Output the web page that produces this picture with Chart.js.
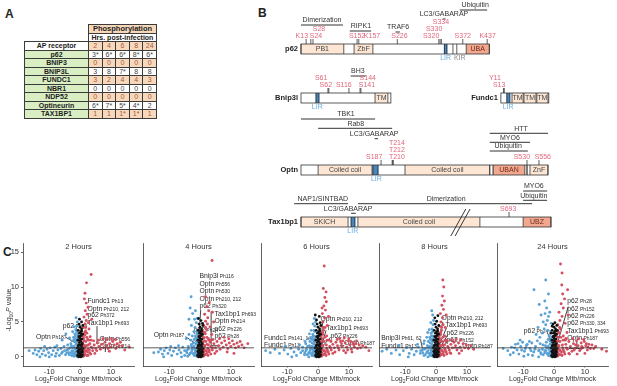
<!DOCTYPE html>
<html>
<head>
<meta charset="utf-8">
<script src="https://cdn.jsdelivr.net/npm/chart.js@4.4.1/dist/chart.umd.min.js"></script>
<style>
  body { margin: 0; background: #fff; }
  #page { position: relative; width: 617px; height: 386px; overflow: hidden; font-family: "Liberation Sans", Arial, sans-serif; color: #222; }
  .letter { position: absolute; font-weight: bold; font-size: 12px; line-height: 12px; }
  canvas { position: absolute; }
  #tbl { position: absolute; left: 24px; top: 24px; border-collapse: collapse; table-layout: fixed; font-size: 7px; }
  #tbl tr { height: 8.5px; }
  #tbl td { border: 0.8px solid #3b3b3b; padding: 0; line-height: 7px; text-align: center; white-space: nowrap; overflow: hidden; }
  #tbl td.e { border: none; }
  #tbl td.ph { background: #f8d8bb; font-weight: bold; font-size: 7.5px; }
  #tbl td.hr { background: #fff; font-weight: bold; }
  #tbl td.ap { background: #fff; font-weight: bold; }
  #tbl td.g { background: #d9efc3; font-weight: bold; }
  #tbl td.o { background: #f8d8bb; color: #a35a45; }
  #tbl td.w { background: #fff; color: #444; }
</style>
</head>
<body>
<div id="page">
  <div class="letter" style="left:5px;top:8px">A</div>
  <div class="letter" style="left:258px;top:7px">B</div>
  <div class="letter" style="left:3px;top:246px">C</div>
  <table id="tbl"></table>
  <canvas id="domains" width="377" height="240" style="left:240px;top:0px"></canvas>
  <canvas id="v0" width="138" height="150" style="left:0px;top:236px"></canvas>
  <canvas id="v1" width="138" height="150" style="left:120px;top:236px"></canvas>
  <canvas id="v2" width="138" height="150" style="left:238px;top:236px"></canvas>
  <canvas id="v3" width="138" height="150" style="left:356px;top:236px"></canvas>
  <canvas id="v4" width="138" height="150" style="left:474px;top:236px"></canvas>
</div>
<script>
const FONT = '"Liberation Sans", Arial, sans-serif';

// ---------- A: phosphosites per receptor
const hours = ['2', '4', '6', '8', '24'];
const receptors = ['p62', 'BNIP3', 'BNIP3L', 'FUNDC1', 'NBR1', 'NDP52', 'Optineurin', 'TAX1BP1'];
const phosphoSites = [
  ['3*', '6*', '6*', '8*', '6*'],
  ['0', '0', '0', '0', '0'],
  ['3', '8', '7*', '8', '8'],
  ['3', '2', '4', '4', '3'],
  ['0', '0', '0', '0', '0'],
  ['0', '0', '0', '0', '0'],
  ['6*', '7*', '5*', '4*', '2'],
  ['1', '1', '1*', '1*', '1']
];

// ---------- B: domain maps (residue units)
const proteins = ['p62', 'Bnip3l', 'Fundc1', 'Optn', 'Tax1bp1'];
const proteinLength = [440, 210, 112, 577, 584];
const domains = [
  ['p62', 0, 100, 'PB1', 'pale'], ['p62', 124, 168, 'ZbF', 'pale'], ['p62', 335, 341, '', 'lir'],
  ['p62', 355, 364, '', 'mark'], ['p62', 386, 440, 'UBA', 'ub'],
  ['Bnip3l', 35, 42, '', 'lir'], ['Bnip3l', 173, 203, 'TM', 'pale'],
  ['Fundc1', 14, 21, '', 'lir'], ['Fundc1', 26, 52, 'TM', 'pale'], ['Fundc1', 54, 82, 'TM', 'pale'], ['Fundc1', 84, 110, 'TM', 'pale'],
  ['Optn', 40, 166, 'Coiled coil', 'pale'], ['Optn', 168, 180, '', 'lir'], ['Optn', 243, 441, 'Coiled coil', 'pale'],
  ['Optn', 441, 449, '', 'mark'], ['Optn', 449, 523, 'UBAN', 'ub'], ['Optn', 528, 528, '', 'mark'], ['Optn', 535, 577, 'ZnF', 'pale'],
  ['Tax1bp1', 0, 110, 'SKICH', 'pale'], ['Tax1bp1', 117, 126, '', 'lir'], ['Tax1bp1', 133, 418, 'Coiled coil', 'pale'],
  ['Tax1bp1', 519, 584, 'UBZ', 'ub']
];
const motifs = [['p62', 338, 'LIR'], ['p62', 371, 'KIR'], ['Bnip3l', 38, 'LIR'], ['Fundc1', 17, 'LIR'], ['Optn', 176, 'LIR'], ['Tax1bp1', 121, 'LIR']];
// protein, residue, label, label centre, label row
const sites = [
  ['p62', 12, 'K13', 2, 0], ['p62', 23, 'S24', 35, 0], ['p62', 28, 'S28', 42, 1],
  ['p62', 131, 'S152', 131, 0], ['p62', 135, 'K157', 166, 0], ['p62', 225, 'S226', 230, 0],
  ['p62', 322, 'S320', 304, 0], ['p62', 325, 'S330', 311, 1], ['p62', 328, 'S334', 327, 2],
  ['p62', 378, 'S372', 378, 0], ['p62', 435, 'K437', 436, 0],
  ['Bnip3l', 63, 'S61', 47, 1], ['Bnip3l', 65, 'S62', 58, 0], ['Bnip3l', 112, 'S116', 100, 0],
  ['Bnip3l', 138, 'S141', 154, 0], ['Bnip3l', 140, 'S144', 156, 1],
  ['Fundc1', 6, 'Y11', -14, 1], ['Fundc1', 8, 'S13', -4, 0],
  ['Optn', 187, 'S187', 171, 0], ['Optn', 213, 'T210', 224, 0], ['Optn', 215, 'T212', 224, 1], ['Optn', 215, 'T214', 224, 2],
  ['Optn', 528, 'S530', 516, 0], ['Optn', 556, 'S556', 565, 0],
  ['Tax1bp1', 486, 'S693', 484, 0]
];
// protein, from, to, partner, label centre
const partners = [
  ['p62', 0, 98, 'Dimerization', 49], ['p62', 114, 164, 'RIPK1', 140], ['p62', 221, 231, 'TRAF6', 227],
  ['p62', 331, 338, 'LC3/GABARAP', 334], ['p62', 371, 435, 'Ubiquitin', 407],
  ['Bnip3l', 116, 151, 'BH3', 133],
  ['Optn', 0, 173, 'TBK1', 105], ['Optn', 40, 213, 'Rab8', 128], ['Optn', 172, 180, 'LC3/GABARAP', 171],
  ['Optn', 441, 577, 'HTT', 514], ['Optn', 441, 535, 'MYO6', 488], ['Optn', 441, 530, 'Ubiquitin', 484],
  ['Tax1bp1', 519, 575, 'MYO6', 544], ['Tax1bp1', 519, 575, 'Ubiquitin', 544],
  ['Tax1bp1', -16, 110, 'NAP1/SINTBAD', 51], ['Tax1bp1', 133, 540, 'Dimerization', 339],
  ['Tax1bp1', 117, 128, 'LC3/GABARAP', 110]
];
// layout of the tracks
const trackTop = { p62: 44, Bnip3l: 93, Fundc1: 93, Optn: 165, Tax1bp1: 217 };
const trackOffset = { p62: 0, Bnip3l: 0, Fundc1: 467, Optn: 0, Tax1bp1: 0 };
const partnerRise = [19, 13, 12, 25, 34, 17, 46, 36.7, 26.3, 31.7, 22.7, 14, 26, 16.7, 13.3, 13.3, 3.7];

// ---------- C: volcano plots
const hourTitles = ['2 Hours', '4 Hours', '6 Hours', '8 Hours', '24 Hours'];
const threshold = 1.3;
const blackCore = [[-0.3,0.05],[0.2,0.15],[-0.1,0.3],[0.4,0.45],[-0.5,0.55],[0.1,0.7],[0.6,0.85],[-0.4,1.0],[0.2,1.15],[-0.2,1.3],[0.5,1.45],[-0.6,1.6],[0.1,1.75],[0.7,1.9],[-0.3,2.05],[0.3,2.2],[-0.7,2.4],[0.6,2.55],[0,2.7],[-0.4,2.9],[0.4,3.05],[0.8,3.25],[-0.2,3.4],[0.2,3.6],[-0.6,3.8],[0.5,4.0],[0,4.25],[0.9,4.5],[-0.3,4.7],[0.3,0],[-0.1,1.05],[0,2.35],[0.35,3.3],[-0.8,0.2],[0.8,0.3],[-0.9,1.3],[0.9,1.2],[-0.5,0.0],[0.6,0.1],[-0.7,0.8],[0.8,0.7],[0,0.45],[-0.3,1.7],[0.4,1.65],[-0.1,2.95],[0.55,3.7]];
const blackTop = [
  [[0.5,5.0],[-0.2,5.4]],
  [[0.3,5.2],[-0.5,5.5],[0.8,4.8]],
  [[-0.5,5.3],[0.4,5.8],[0.7,4.9],[-0.9,6.0]],
  [[0.2,5.1],[-0.4,5.6],[0.6,5.9]],
  [[0.3,4.9],[-0.6,4.4],[1.1,3.8],[-1.0,3.4]]
];
// dense V next to zero, common to all time points
const blueNearZero = [[-2.2,0.5],[-1.8,0.2],[-1.4,0.7],[-1.1,0.1],[-0.9,0.9],[-2.6,0.9],[-1.6,1.1],[-1.3,1.8],[-2.0,1.5],[-1.0,1.3],[-0.8,0.6],[-3.0,0.6],[-2.4,1.3],[-1.7,0.5],[-1.2,2.2],[-0.9,2.6],[-1.5,3.0],[-1.9,2.5],[-3.5,0.3],[-4.3,0.6],[-5.0,0.9],[-3.8,1.1],[-2.8,1.6],[-1.1,3.6]];
const redNearZero = [[1.1,0.1],[1.4,0.5],[1.0,0.8],[1.7,0.3],[2.0,0.9],[1.3,1.1],[1.6,1.6],[2.4,0.7],[1.1,1.7],[1.9,2.2],[2.7,1.7],[1.3,2.3],[3.0,1.0],[3.5,0.4],[4.0,1.3],[2.2,2.8],[1.5,3.5],[1.2,1.4],[2.6,0.2],[3.6,2.4],[4.8,0.5],[2.9,2.4],[1.0,2.9],[1.8,4.2]];
const bluePoints = [
  [[-16.5,0.9],[-15.2,0.5],[-14.6,1.0],[-14,0.3],[-13.4,0.8],[-12.8,1.2],[-12.3,0.4],[-11.8,0.9],[-11.2,0.2],[-10.7,1.1],[-10.2,0.6],[-9.7,1.3],[-9.2,0.3],[-8.7,0.9],[-8.2,1.4],[-7.7,0.5],[-7.2,1.0],[-6.7,0.2],[-6.2,1.2],[-5.7,0.7],[-5.2,1.5],[-4.7,0.3],[-4.2,1.0],[-3.7,0.6],[-3.2,1.3],[-2.7,0.2],[-2.3,0.8],[-1.9,1.4],[-1.5,0.4],[-1.2,1.0],[-0.9,0.2],[-13,0],[-10,0],[-8,0.1],[-6,0.5],[-4,1.7],[-3,1.9],[-2,0.1],[-11.5,1.5],[-7.5,1.6],
   [-2.6,2.3],[-2.1,2.8],[-1.7,3.3],[-1.4,3.9],[-1.1,4.4],[-0.9,5.0],[-1.3,5.6],[-2.4,3.6],[-1.8,2.2],[-1.2,2.6],[-0.8,3.2],[-3.4,2.7],[-4.6,3.3],[-5.8,2.4],[-2.0,4.3],[-1.0,1.8]],
  [[-13.5,0.7],[-12.8,1.1],[-12.2,0.4],[-11.6,0.9],[-11,1.3],[-10.4,0.5],[-9.8,1.0],[-9.2,0.2],[-8.6,0.8],[-8,1.3],[-7.4,0.4],[-6.8,1.0],[-6.2,0.6],[-5.6,1.4],[-5,0.2],[-4.4,0.9],[-3.8,1.5],[-3.2,0.5],[-2.6,1.1],[-2,0.3],[-1.5,0.9],[-1,0.4],[-7,1.6],[-9.5,1.5],[-4,0.1],[-6,0.0],[-11.8,0],[-15,0.6],[-2.8,1.8],
   [-3.0,2.4],[-2.5,3.0],[-2.0,3.6],[-1.6,4.2],[-1.2,4.9],[-0.9,5.5],[-2.2,2.0],[-1.4,2.7],[-1.0,3.3],[-3.6,3.2],[-2.8,4.5],[-1.8,5.4],[-2.4,6.2],[-3.2,7.0],[-2.9,8.6],[-1.5,6.6],[-4.5,2.6],[-0.8,2.0],[-3.6,5.4]],
  [[-17,0.9],[-15.5,0.6],[-14,1.1],[-12.5,0.5],[-11,1.0],[-9.8,0.4],[-8.8,1.2],[-7.8,0.7],[-7,0.2],[-6.3,1.1],[-5.6,0.6],[-5,1.4],[-4.4,0.3],[-3.9,0.9],[-3.4,1.5],[-2.9,0.5],[-2.4,1.1],[-2,0.2],[-1.6,0.8],[-1.2,1.4],[-0.9,0.3],[-6,1.7],[-4,1.9],[-8.5,0.0],[-3,0],[-10.5,1.5],
   [-2.6,2.2],[-2.1,2.7],[-1.7,3.2],[-1.3,3.8],[-1.0,4.4],[-0.8,5.0],[-1.9,2.0],[-1.4,2.5],[-0.9,2.9],[-3.2,2.6],[-2.2,3.8],[-1.6,4.7],[-1.2,5.5],[-4.2,2.2],[-2.8,3.3]],
  [[-17.5,0.8],[-16,1.1],[-14.5,0.5],[-13,1.0],[-11.8,0.3],[-10.6,0.9],[-9.6,1.3],[-8.7,0.5],[-7.9,1.1],[-7.1,0.3],[-6.4,0.8],[-5.7,1.4],[-5.1,0.5],[-4.5,1.0],[-3.9,0.2],[-3.4,1.2],[-2.9,0.7],[-2.4,1.5],[-2,0.3],[-1.6,0.9],[-1.2,1.5],[-0.9,0.4],[-6,1.8],[-4,1.9],[-9,0],[-2.6,0],[-12,1.6],
   [-2.5,2.2],[-2.0,2.8],[-1.6,3.4],[-1.3,4.0],[-1.0,4.6],[-0.8,5.2],[-1.1,6.0],[-1.9,2.0],[-1.4,2.5],[-0.9,3.0],[-3.0,2.8],[-2.2,3.9],[-1.7,4.9],[-3.8,2.3],[-2.7,3.5],[-1.4,6.6]],
  [[-15,0.9],[-13.8,1.4],[-13.2,0.6],[-12.5,1.8],[-12,1.0],[-11.4,0.4],[-10.8,1.5],[-10.2,2.1],[-9.6,0.8],[-9,1.6],[-8.4,0.3],[-7.8,1.2],[-7.2,2.0],[-6.6,0.7],[-6,1.5],[-5.4,2.3],[-4.8,1.0],[-4.2,0.4],[-3.6,1.7],[-3,0.9],[-2.5,2.1],[-2,0.3],[-1.6,1.3],[-1.2,0.6],[-11,2.4],[-8,2.2],[-9.8,0.1],[-7,0.2],[-5,0.0],[-14.2,0.3],[-16.5,1.2],
   [-4.6,2.8],[-3.8,3.4],[-3.2,4.0],[-2.7,4.6],[-2.2,5.2],[-1.8,5.8],[-1.4,6.4],[-3.5,5.0],[-2.9,6.2],[-2.4,7.0],[-4.2,6.0],[-1.6,3.0],[-2.0,3.8],[-1.1,2.4],[-5.2,4.2],[-3.0,8.0],[-2.7,11.0],[-6.5,9.6],[-4.8,7.5],[-1.8,9.0],[-0.9,4.8],[-5.8,3.2],[-10.5,1.0],[-12.8,1.3],[-8.7,1.8],[-7.5,0.9],[-6.2,1.1],[-9.3,1.2],[-11.7,1.9],[-4.5,1.9]]
];
const redPoints = [
  [[1.3,0.3],[1.7,0.8],[2.2,0.2],[2.6,1.1],[3.1,0.6],[3.6,1.4],[4.1,0.9],[4.6,1.7],[5.1,1.2],[5.6,2.0],[6.1,1.5],[6.6,1.1],[7.1,1.8],[7.6,1.3],[8.1,2.1],[8.6,1.6],[9.1,1.2],[9.6,1.9],[10.1,1.4],[10.6,2.2],[11.1,1.7],[11.6,1.2],[12.1,1.9],[12.6,1.5],[13.1,2.1],[13.7,1.6],[6,2.4],[7.4,2.6],[8.8,2.5],[10.2,2.6],[5.4,0.9],[9.5,0.8],[11.4,2.5],[4.4,2.3],[3.2,1.9],[2.1,1.6],[14.5,1.0],[16,1.4],[1.5,1.3],
   [0.9,2.0],[1.2,2.6],[1.5,3.1],[1.8,3.7],[1.1,4.2],[1.6,4.7],[2.0,5.2],[1.3,5.7],[2.3,6.1],[1.7,6.6],[2.6,7.1],[2.0,7.7],[2.9,4.0],[3.3,2.9],[2.5,2.5],[3.8,5.4],[1.0,3.3],[2.7,4.9],[2.2,3.4],[1.4,8.3],[1.6,9.1],[2.1,10.6],[3.6,11.8]],
  [[1.2,0.3],[1.6,0.9],[2.1,0.4],[2.5,1.2],[3,0.7],[3.5,1.5],[4,1.0],[4.5,1.9],[5,1.3],[5.5,2.2],[6,1.6],[6.5,1.1],[7,2.0],[7.5,1.4],[8,2.3],[8.5,1.7],[9,1.2],[9.5,2.0],[10,1.5],[10.5,2.3],[11,1.8],[11.5,1.3],[12,2.0],[12.5,1.5],[13,2.2],[13.6,1.7],[14.3,1.3],[6.3,2.6],[7.8,2.8],[9.3,2.6],[4.2,2.5],[5.4,0.8],[8.8,0.7],[3.3,2.1],[2.3,1.8],[15.5,1.9],[11,0.5],
   [0.9,2.1],[1.3,2.7],[1.7,3.3],[2.1,3.9],[1.2,4.5],[1.8,5.1],[2.5,5.6],[1.5,6.1],[2.8,6.6],[2.2,7.2],[3.2,4.3],[3.8,3.2],[2.7,2.6],[4.4,5.0],[1.0,3.6],[3.0,7.8],[2.4,4.7],[4.0,6.4],[3.9,13.8],[1.8,8.6]],
  [[0.9,2.0],[1.2,2.6],[1.5,3.2],[1.8,3.8],[1.1,4.4],[1.6,5.0],[2.1,5.6],[1.4,6.2],[2.4,6.7],[1.9,7.3],[2.7,7.9],[2.2,8.5],[2.6,9.3],[1.7,9.8],[2.0,13.0],[3.0,4.5],[2.8,3.0],[1.0,3.4],[2.3,4.2],[3.4,5.8],[1.3,7.0],
   [1.3,0.3],[1.8,0.9],[2.3,0.4],[2.8,1.2],[3.3,0.7],[3.8,1.5],[4.3,1.0],[4.8,1.8],[5.3,1.3],[5.8,2.1],[6.3,1.6],[6.8,1.0],[7.3,2.2],[7.8,1.5],[8.3,0.9],[8.8,2.0],[9.3,1.4],[9.8,2.3],[10.3,1.7],[10.8,1.1],[11.3,2.0],[11.8,1.4],[12.3,1.9],[12.8,1.2],[13.3,1.7],[13.8,1.3],[14.5,1.6],[5.5,0.7],[7,2.6],[8.5,2.7],[10,2.6],[6.2,2.5],[9,0.6],[11,0.7],[12.5,2.3],[4.2,2.2],[15.5,1.4],[16.5,0.9],[7.6,1.9],[9.6,1.0],[11.6,1.7],[6.6,1.3],[8.0,2.3],[10.6,2.2]],
  [[0.9,2.0],[1.2,2.6],[1.5,3.2],[1.8,3.8],[1.1,4.4],[1.6,5.0],[2.1,5.6],[1.4,6.2],[2.4,6.8],[1.9,7.4],[2.7,8.0],[2.1,8.7],[2.5,10.0],[3.0,4.2],[2.8,3.0],[1.0,3.4],[2.3,4.6],[3.3,6.0],[2.2,11.0],
   [1.3,0.3],[1.8,0.9],[2.3,0.4],[2.8,1.2],[3.3,0.7],[3.8,1.5],[4.3,1.0],[4.8,1.8],[5.3,1.3],[5.8,2.1],[6.3,1.6],[6.8,1.0],[7.3,2.0],[7.8,1.4],[8.3,0.9],[8.8,1.9],[9.3,1.3],[9.8,1.7],[10.5,1.2],[11.3,1.6],[12.2,1.1],[5,2.4],[6.5,2.5],[8,2.4],[4.5,0.6],[7.5,0.5],[3.2,2.2],[2.2,1.7]],
  [[1.3,0.4],[1.8,1.0],[2.3,0.3],[2.8,1.3],[3.3,0.7],[3.8,1.8],[4.3,1.1],[4.8,2.2],[5.3,1.5],[5.8,0.8],[6.3,1.9],[6.8,1.2],[7.3,2.3],[7.8,1.6],[8.3,0.9],[8.8,2.0],[9.3,1.3],[9.8,2.2],[10.3,1.6],[10.8,1.0],[11.3,1.8],[11.8,1.2],[12.3,1.7],[12.9,1.2],[13.5,1.5],[6,2.6],[8,2.6],[9.6,2.5],[5,0.4],[7.5,0.4],[10,0.5],[4,2.6],[15.5,1.1],[17,0.8],[7.0,1.7],[9.0,1.5],[11.0,1.4],[6.5,1.0],[8.6,1.1],[10.5,1.9],
   [0.9,2.2],[1.3,2.8],[1.7,3.4],[2.1,4.0],[1.2,4.6],[1.9,5.2],[2.6,5.8],[1.6,6.4],[3.0,7.0],[2.3,7.6],[3.4,8.3],[2.8,9.0],[3.6,4.8],[4.2,3.5],[3.0,3.0],[4.6,6.0],[1.0,3.7],[2.5,10.3],[2.1,13.3],[2.6,12.0],[3.8,2.6],[4.4,9.6]]
];
// name, site, left x, baseline y
const siteLabels = [
  [['Fundc1','Ph13',2.4,7.7],['Optn','Ph210, 212',2.4,6.6],['p62','Ph372',2.4,5.7],['Tax1bp1','Ph693',2.4,4.6],['Optn','Ph556',6.3,2.3],['Optn','Ph214',6.3,1.3],['p62','Ph24',-5.6,4.1],['Optn','Ph187',-14.3,2.6]],
  [['Bnip3l','Ph116',-0.2,11.3],['Optn','Ph556',-0.2,10.1],['Optn','Ph530',-0.2,9.1],['Optn','Ph210, 212',-0.2,8.0],['p62','Ph320',-0.2,7.0],['Tax1bp1','Ph693',4.7,5.9],['Optn','Ph214',4.7,4.9],['p62','Ph226',4.7,3.7],['p62','Ph28',4.7,2.7],['p62','Ph24',-2.1,3.6],['Optn','Ph187',-15,2.9]],
  [['Optn','Ph210, 212',0.8,5.1],['Tax1bp1','Ph693',2.7,3.9],['p62','Ph226',4.0,2.7],['Optn','Ph187',8.5,1.7],['Fundc1','Ph141, 148',-17.5,2.4],['Fundc1','Ph13',-17.5,1.4]],
  [['Optn','Ph210, 212',1.8,5.3],['Tax1bp1','Ph693',3.1,4.3],['p62','Ph226',3.4,3.1],['p62','Ph152',3.4,2.1],['Optn','Ph187',8.5,1.3],['Bnip3l','Ph61, 62',-17.8,2.4],['Fundc1','Ph13',-17.8,1.3]],
  [['p62','Ph28',4.3,7.7],['p62','Ph152',4.3,6.6],['p62','Ph226',4.3,5.6],['p62','Ph330, 334',4.3,4.6],['Tax1bp1','Ph693',4.3,3.4],['Optn','Ph187',4.3,2.4],['p62','Ph24',-9.8,3.4]]
];
const leaderLines = [
  [[[5.5,4.4],[5.5,2.0],[6.3,2.0]], [[-1.2,4.2],[-0.4,2.4]], [[-4.6,2.8],[-0.2,1.7]], [[8.2,1.2],[8.2,0.7]]],
  [[[3.6,6.5],[3.6,1.6],[6.6,1.6]], [[-0.9,3.6],[0.2,1.0]], [[-4.7,2.9],[0,1.5]], [[0.2,6.7],[-0.4,2.4]]],
  [[[1.5,4.9],[0.8,1.2]], [[2.6,3.8],[1.1,1.5]], [[4.0,2.8],[1.6,1.6]], [[-1.5,2.4],[-0.6,1.5]], [[8.5,1.6],[7.0,1.6]]],
  [[[2.2,5.0],[0.4,1.5]], [[3.4,4.2],[0.9,1.5]], [[3.7,3.1],[1.4,1.4]], [[3.7,2.2],[1.8,1.2]], [[-5,2.4],[-4.4,1.2]], [[8.4,1.3],[5.0,1.3]]],
  [[[-2.2,3.5],[0.2,1.0]], [[4.6,7.2],[0.8,1.5]], [[7.4,2.2],[7.4,1.2]], [[4.8,1.2],[9.1,1.2]]]
];

// ---------- helpers
function drawParts(ctx, parts, x, y, align) {
  let w = 0;
  parts.forEach(p => { ctx.font = `${p[3] || ''} ${p[1]}px ${FONT}`; w += ctx.measureText(p[0]).width; });
  let cx = align === 'center' ? x - w / 2 : x;
  ctx.textAlign = 'left';
  ctx.textBaseline = 'alphabetic';
  parts.forEach(p => {
    ctx.font = `${p[3] || ''} ${p[1]}px ${FONT}`;
    ctx.fillText(p[0], cx, y + (p[2] || 0));
    cx += ctx.measureText(p[0]).width;
  });
}

// ---------- A
const tbl = document.getElementById('tbl');
let html = '<colgroup><col style="width:64px">' + hours.map(() => '<col style="width:13.6px">').join('') + '</colgroup>';
html += '<tr><td class="e"></td><td colspan="5" class="ph">Phosphorylation</td></tr>';
html += '<tr><td class="e"></td><td colspan="5" class="hr">Hrs. post-infection</td></tr>';
html += '<tr><td class="ap">AP receptor</td>' + hours.map(h => `<td class="o">${h}</td>`).join('') + '</tr>';
receptors.forEach((r, i) => {
  const cls = i % 2 === 0 ? 'w' : 'o';
  html += `<tr><td class="g">${r}</td>` + phosphoSites[i].map(v => `<td class="${cls}">${v}</td>`).join('') + '</tr>';
});
tbl.innerHTML = html;

// ---------- B
const domainPlugin = {
  id: 'domainPlugin',
  afterDraw(chart) {
    const { ctx, scales: { x, y } } = chart;
    const X = (p, u) => x.getPixelForValue(trackOffset[p] + u);
    const Y = v => y.getPixelForValue(v);
    const H = 10;
    ctx.save();
    ctx.lineWidth = 0.8;
    ctx.strokeStyle = '#333';

    // partner lines
    partners.forEach((b, i) => {
      const top = Y(trackTop[b[0]]);
      const ly = top - partnerRise[i];
      ctx.beginPath();
      ctx.lineWidth = 1;
      ctx.moveTo(X(b[0], b[1]), ly);
      ctx.lineTo(X(b[0], b[2]), ly);
      ctx.stroke();
      ctx.fillStyle = '#333';
      ctx.font = `7px ${FONT}`;
      ctx.textAlign = 'center';
      ctx.textBaseline = 'middle';
      ctx.fillText(b[3], X(b[0], b[4]), ly - 4.5);
    });
    ctx.lineWidth = 0.8;

    proteins.forEach((p, i) => {
      const top = Y(trackTop[p]);
      const x0 = X(p, 0), x1 = X(p, proteinLength[i]);
      ctx.fillStyle = '#fff';
      ctx.fillRect(x0, top, x1 - x0, H);
      ctx.fillStyle = '#222';
      ctx.font = `bold 7.5px ${FONT}`;
      ctx.textAlign = 'right';
      ctx.textBaseline = 'middle';
      ctx.fillText(p, x0 - 3, top + H / 2);
    });

    domains.forEach(d => {
      const top = Y(trackTop[d[0]]);
      const a = X(d[0], d[1]), b = X(d[0], d[2]);
      if (d[4] === 'pale' || d[4] === 'ub' || d[4] === 'lir') {
        ctx.fillStyle = d[4] === 'pale' ? '#fde6d3' : d[4] === 'ub' ? '#f1a88e' : '#4a86b8';
        ctx.fillRect(a, top, b - a, H);
      }
      ctx.strokeStyle = d[4] === 'lir' ? '#1f3550' : '#333';
      ctx.lineWidth = d[4] === 'lir' ? 1 : 0.8;
      ctx.beginPath();
      ctx.moveTo(a, top); ctx.lineTo(a, top + H);
      ctx.moveTo(b, top); ctx.lineTo(b, top + H);
      ctx.stroke();
      if (d[3]) {
        ctx.fillStyle = d[4] === 'ub' ? '#6e2a1d' : '#444';
        ctx.font = `7px ${FONT}`;
        ctx.textAlign = 'center';
        ctx.textBaseline = 'middle';
        ctx.fillText(d[3], (a + b) / 2, top + H / 2 + 0.5);
      }
    });

    ctx.strokeStyle = '#333';
    ctx.lineWidth = 0.8;
    proteins.forEach((p, i) => {
      const top = Y(trackTop[p]);
      const x0 = X(p, 0), x1 = X(p, proteinLength[i]);
      ctx.strokeRect(x0, top, x1 - x0, H);
    });

    motifs.forEach(m => {
      const top = Y(trackTop[m[0]]);
      ctx.fillStyle = m[2] === 'LIR' ? '#6aaedf' : '#8c8c8c';
      ctx.font = `7px ${FONT}`;
      ctx.textAlign = 'center';
      ctx.textBaseline = 'middle';
      ctx.fillText(m[2], X(m[0], m[1]), top + H + 4.5);
    });

    sites.forEach(s => {
      const top = Y(trackTop[s[0]]);
      ctx.strokeStyle = '#333';
      ctx.beginPath();
      ctx.moveTo(X(s[0], s[1]), top - 5);
      ctx.lineTo(X(s[0], s[1]), top);
      ctx.stroke();
      ctx.fillStyle = '#e0687c';
      ctx.font = `7px ${FONT}`;
      ctx.textAlign = 'center';
      ctx.textBaseline = 'middle';
      ctx.fillText(s[2], X(s[0], s[3]), top - 8 - 6.8 * s[4]);
    });

    // break on Tax1bp1
    const tTop = Y(trackTop.Tax1bp1);
    ctx.strokeStyle = '#222';
    ctx.lineWidth = 0.9;
    [[350, 385], [360, 395]].forEach(([u0, u1]) => {
      ctx.beginPath();
      ctx.moveTo(X('Tax1bp1', u0), tTop + 19);
      ctx.lineTo(X('Tax1bp1', u1), tTop - 8);
      ctx.stroke();
    });
    ctx.restore();
  }
};

new Chart(document.getElementById('domains'), {
  type: 'scatter',
  data: { datasets: [{ data: [] }] },
  options: {
    responsive: false, animation: false, events: [],
    layout: { padding: 0 },
    plugins: { legend: { display: false }, tooltip: { enabled: false } },
    scales: {
      x: { type: 'linear', display: false, min: -142.5, max: 738.3 },
      y: { type: 'linear', display: false, min: 0, max: 240, reverse: true }
    }
  },
  plugins: [domainPlugin]
});

// ---------- C
const volcanoDeco = {
  id: 'volcanoDeco',
  beforeDatasetsDraw(chart, args, opts) {
    const { ctx, chartArea: a, scales: { x, y } } = chart;
    const i = opts.i;
    ctx.save();
    ctx.fillStyle = '#333';
    ctx.font = `7.5px ${FONT}`;
    ctx.textAlign = 'center';
    ctx.textBaseline = 'middle';
    ctx.fillText(hourTitles[i], (a.left + a.right) / 2, a.top + 4);
    ctx.strokeStyle = '#111';
    ctx.lineWidth = 0.8;
    leaderLines[i].forEach(line => {
      ctx.beginPath();
      line.forEach(([vx, vy], k) => {
        const px = x.getPixelForValue(vx), py = y.getPixelForValue(vy);
        if (k) ctx.lineTo(px, py); else ctx.moveTo(px, py);
      });
      ctx.stroke();
    });
    ctx.fillStyle = '#2a2a2a';
    siteLabels[i].forEach(([name, site, vx, vy]) => {
      drawParts(ctx, [[name, 6.8], [' ' + site, 5]], x.getPixelForValue(vx), y.getPixelForValue(vy), 'left');
    });
    ctx.restore();
  },
  afterDatasetsDraw(chart) {
    const { ctx, chartArea: a, scales: { y } } = chart;
    const ty = y.getPixelForValue(threshold);
    ctx.save();
    ctx.strokeStyle = '#333';
    ctx.lineWidth = 0.8;
    ctx.beginPath();
    ctx.moveTo(a.left, ty);
    ctx.lineTo(a.right, ty);
    ctx.stroke();
    ctx.restore();
  },
  afterDraw(chart, args, opts) {
    const { ctx, chartArea: a } = chart;
    ctx.save();
    ctx.fillStyle = '#333';
    drawParts(ctx, [['Log', 7], ['2', 5, 1.5], ['Fold Change Mtb/mock', 7]], (a.left + a.right) / 2, 145, 'center');
    if (opts.i === 0) {
      ctx.translate(11, 74);
      ctx.rotate(-Math.PI / 2);
      drawParts(ctx, [['-Log', 7], ['10', 5, 1.5], ['P', 7, 0, 'italic'], [' value', 7]], 0, 0, 'center');
    }
    ctx.restore();
  }
};

const toXY = arr => arr.map(([x, y]) => ({ x, y }));

hourTitles.forEach((t, i) => {
  new Chart(document.getElementById('v' + i), {
    type: 'scatter',
    data: {
      datasets: [
        { data: toXY(blackCore.concat(blackTop[i])), backgroundColor: '#111', pointRadius: 1.4, borderWidth: 0 },
        { data: toXY(redPoints[i].concat(redNearZero)), backgroundColor: '#d24f5f', pointRadius: 1.45, borderWidth: 0 },
        { data: toXY(bluePoints[i].concat(blueNearZero)), backgroundColor: '#5aa2d6', pointRadius: 1.45, borderWidth: 0 }
      ]
    },
    options: {
      responsive: false, animation: false, events: [],
      layout: { padding: { top: 7, right: 3, left: 0, bottom: 0 } },
      plugins: { legend: { display: false }, tooltip: { enabled: false }, volcanoDeco: { i } },
      scales: {
        x: {
          type: 'linear', min: -18.5, max: 17.5,
          afterFit: s => { s.height = 20; },
          border: { display: true, color: '#3a3a3a', width: 0.8 },
          grid: { drawOnChartArea: false, drawTicks: true, tickLength: 1.5, color: '#3a3a3a', lineWidth: 0.8 },
          ticks: { stepSize: 10, includeBounds: false, maxRotation: 0, padding: 0, color: '#333', font: { size: 7.5, family: FONT } }
        },
        y: {
          type: 'linear', min: -1.3, max: 16.3,
          afterFit: s => { s.width = 23; },
          border: { display: true, color: '#3a3a3a', width: 0.8 },
          grid: { drawOnChartArea: false, drawTicks: i === 0, tickLength: 2, color: '#3a3a3a', lineWidth: 0.8 },
          ticks: { display: i === 0, stepSize: 5, includeBounds: false, padding: 2, color: '#333', font: { size: 7.5, family: FONT } }
        }
      }
    },
    plugins: [volcanoDeco]
  });
});
</script>
</body>
</html>
